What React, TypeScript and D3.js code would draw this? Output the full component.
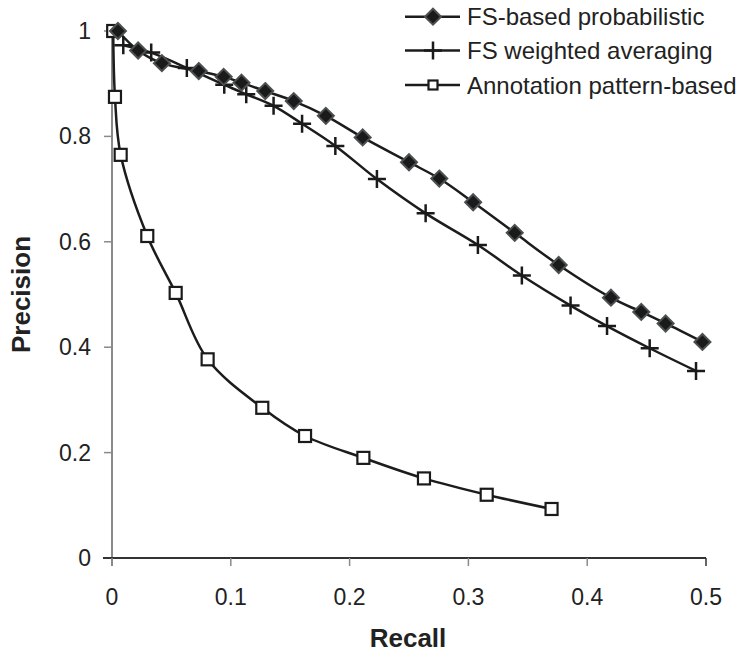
import React from "react";
import * as d3 from "d3";

const seriesNames = ["FS-based probabilistic", "FS weighted averaging", "Annotation pattern-based"];

const probRecall = [0.005, 0.022, 0.042, 0.073, 0.094, 0.109, 0.129, 0.153, 0.18, 0.211, 0.25, 0.2755, 0.304, 0.339, 0.376, 0.42, 0.4455, 0.466, 0.497];
const probPrecision = [1.0, 0.963, 0.939, 0.924, 0.913, 0.902, 0.886, 0.867, 0.839, 0.798, 0.751, 0.72, 0.675, 0.617, 0.556, 0.494, 0.467, 0.445, 0.41];

const wavgRecall = [0.0095, 0.033, 0.063, 0.0945, 0.113, 0.136, 0.16, 0.188, 0.223, 0.264, 0.308, 0.345, 0.386, 0.4167, 0.4526, 0.4916];
const wavgPrecision = [0.973, 0.959, 0.93, 0.898, 0.88, 0.858, 0.824, 0.782, 0.719, 0.654, 0.594, 0.536, 0.479, 0.44, 0.398, 0.355];

const annoRecall = [0.001, 0.0025, 0.0073, 0.0297, 0.0536, 0.0805, 0.1265, 0.1625, 0.2116, 0.2626, 0.3154, 0.37];
const annoPrecision = [1.0, 0.875, 0.765, 0.611, 0.503, 0.377, 0.285, 0.2315, 0.19, 0.151, 0.12, 0.093];

const xTicks = [0, 0.1, 0.2, 0.3, 0.4, 0.5];
const yTicks = [0, 0.2, 0.4, 0.6, 0.8, 1];

const W = 747;
const H = 654;
const FONT = "'Liberation Sans', Arial, sans-serif";

type Pt = { x: number; y: number };
const zip = (xs: number[], ys: number[]): Pt[] => xs.map((x, i) => ({ x, y: ys[i] }));

export default function App() {
  const x = d3.scaleLinear().domain([0, 0.5]).range([112, 706]);
  const y = d3.scaleLinear().domain([0, 1]).range([558, 31]);
  const line = d3
    .line<Pt>()
    .x((d) => x(d.x))
    .y((d) => y(d.y))
    .curve(d3.curveCatmullRom.alpha(0.5));

  const prob = zip(probRecall, probPrecision);
  const wavg = zip(wavgRecall, wavgPrecision);
  const anno = zip(annoRecall, annoPrecision);

  const lineColor = "#1c1c1c";

  const diamond = (cx: number, cy: number, key: string | number) => (
    <path
      key={key}
      d={`M${cx},${cy - 8}L${cx + 8},${cy}L${cx},${cy + 8}L${cx - 8},${cy}Z`}
      fill="#1a1a1a"
      stroke="#4a5050"
      strokeWidth={2}
    />
  );
  const plus = (cx: number, cy: number, key: string | number) => (
    <path
      key={key}
      d={`M${cx - 9},${cy}H${cx + 9}M${cx},${cy - 9}V${cy + 9}`}
      stroke="#1a1a1a"
      strokeWidth={2.5}
      fill="none"
    />
  );
  const square = (cx: number, cy: number, key: string | number, s = 6) => (
    <rect key={key} x={cx - s} y={cy - s} width={2 * s} height={2 * s} fill="#fff" stroke="#1a1a1a" strokeWidth={2.2} />
  );

  const legendY = [16.7, 50.5, 85];
  const legendMarkers = [
    (cy: number) => diamond(433, cy, "ld"),
    (cy: number) => plus(433, cy, "lp"),
    (cy: number) => square(433, cy, "ls", 4.5),
  ];

  return (
    <svg
      width={W}
      height={H}
      viewBox={`0 0 ${W} ${H}`}
      style={{ position: "absolute", left: 0, top: 0, background: "#fff" }}
      fontFamily={FONT}
    >
      <rect x={0} y={0} width={W} height={H} fill="#fff" />
      {/* Y axis */}
      <line x1={x(0)} x2={x(0)} y1={y(1) - 2} y2={y(0) + 8} stroke="#8a8a8a" strokeWidth={2} />
      {yTicks.map((t) => (
        <g key={"yt" + t}>
          {t !== 0 && <line x1={x(0) - 8} x2={x(0)} y1={y(t)} y2={y(t)} stroke="#8a8a8a" strokeWidth={1.5} />}
          <text x={91} y={y(t)} textAnchor="end" dominantBaseline="central" fontSize={23} fill="#222">
            {t === 0 || t === 1 ? String(t) : t.toFixed(1)}
          </text>
        </g>
      ))}
      {/* X axis */}
      <line x1={x(0) - 9} x2={x(0.5)} y1={y(0)} y2={y(0)} stroke="#333" strokeWidth={2} />
      {xTicks.map((t) => (
        <g key={"xt" + t}>
          <line x1={x(t)} x2={x(t)} y1={y(0)} y2={y(0) + 8} stroke={t === 0.5 ? "#333" : "#8a8a8a"} strokeWidth={1.5} />
          <text x={x(t)} y={605} textAnchor="middle" fontSize={23} fill="#222">
            {t === 0 ? "0" : t.toFixed(1)}
          </text>
        </g>
      ))}
      {/* Axis titles */}
      <text x={408} y={647} textAnchor="middle" fontSize={26} fontWeight="bold" fill="#222">
        Recall
      </text>
      <text
        transform={`translate(30,${(y(0) + y(1)) / 2}) rotate(-90)`}
        textAnchor="middle"
        fontSize={26}
        fontWeight="bold"
        fill="#222"
      >
        Precision
      </text>
      {/* Lines */}
      <path d={line(anno) || ""} fill="none" stroke={lineColor} strokeWidth={2.5} />
      <path d={line(wavg) || ""} fill="none" stroke={lineColor} strokeWidth={2.5} />
      <path d={line(prob) || ""} fill="none" stroke={lineColor} strokeWidth={2.5} />
      {/* Markers */}
      {anno.map((d, i) => square(x(d.x), y(d.y), "s" + i))}
      {wavg.map((d, i) => plus(x(d.x), y(d.y), "p" + i))}
      {prob.map((d, i) => diamond(x(d.x), y(d.y), "d" + i))}
      {/* Legend */}
      {seriesNames.map((name, i) => (
        <g key={"lg" + i}>
          <line x1={405} x2={460} y1={legendY[i]} y2={legendY[i]} stroke={lineColor} strokeWidth={2.5} />
          {legendMarkers[i](legendY[i])}
          <text x={467} y={legendY[i]} dominantBaseline="central" fontSize={24} fill="#222">
            {name}
          </text>
        </g>
      ))}
    </svg>
  );
}
